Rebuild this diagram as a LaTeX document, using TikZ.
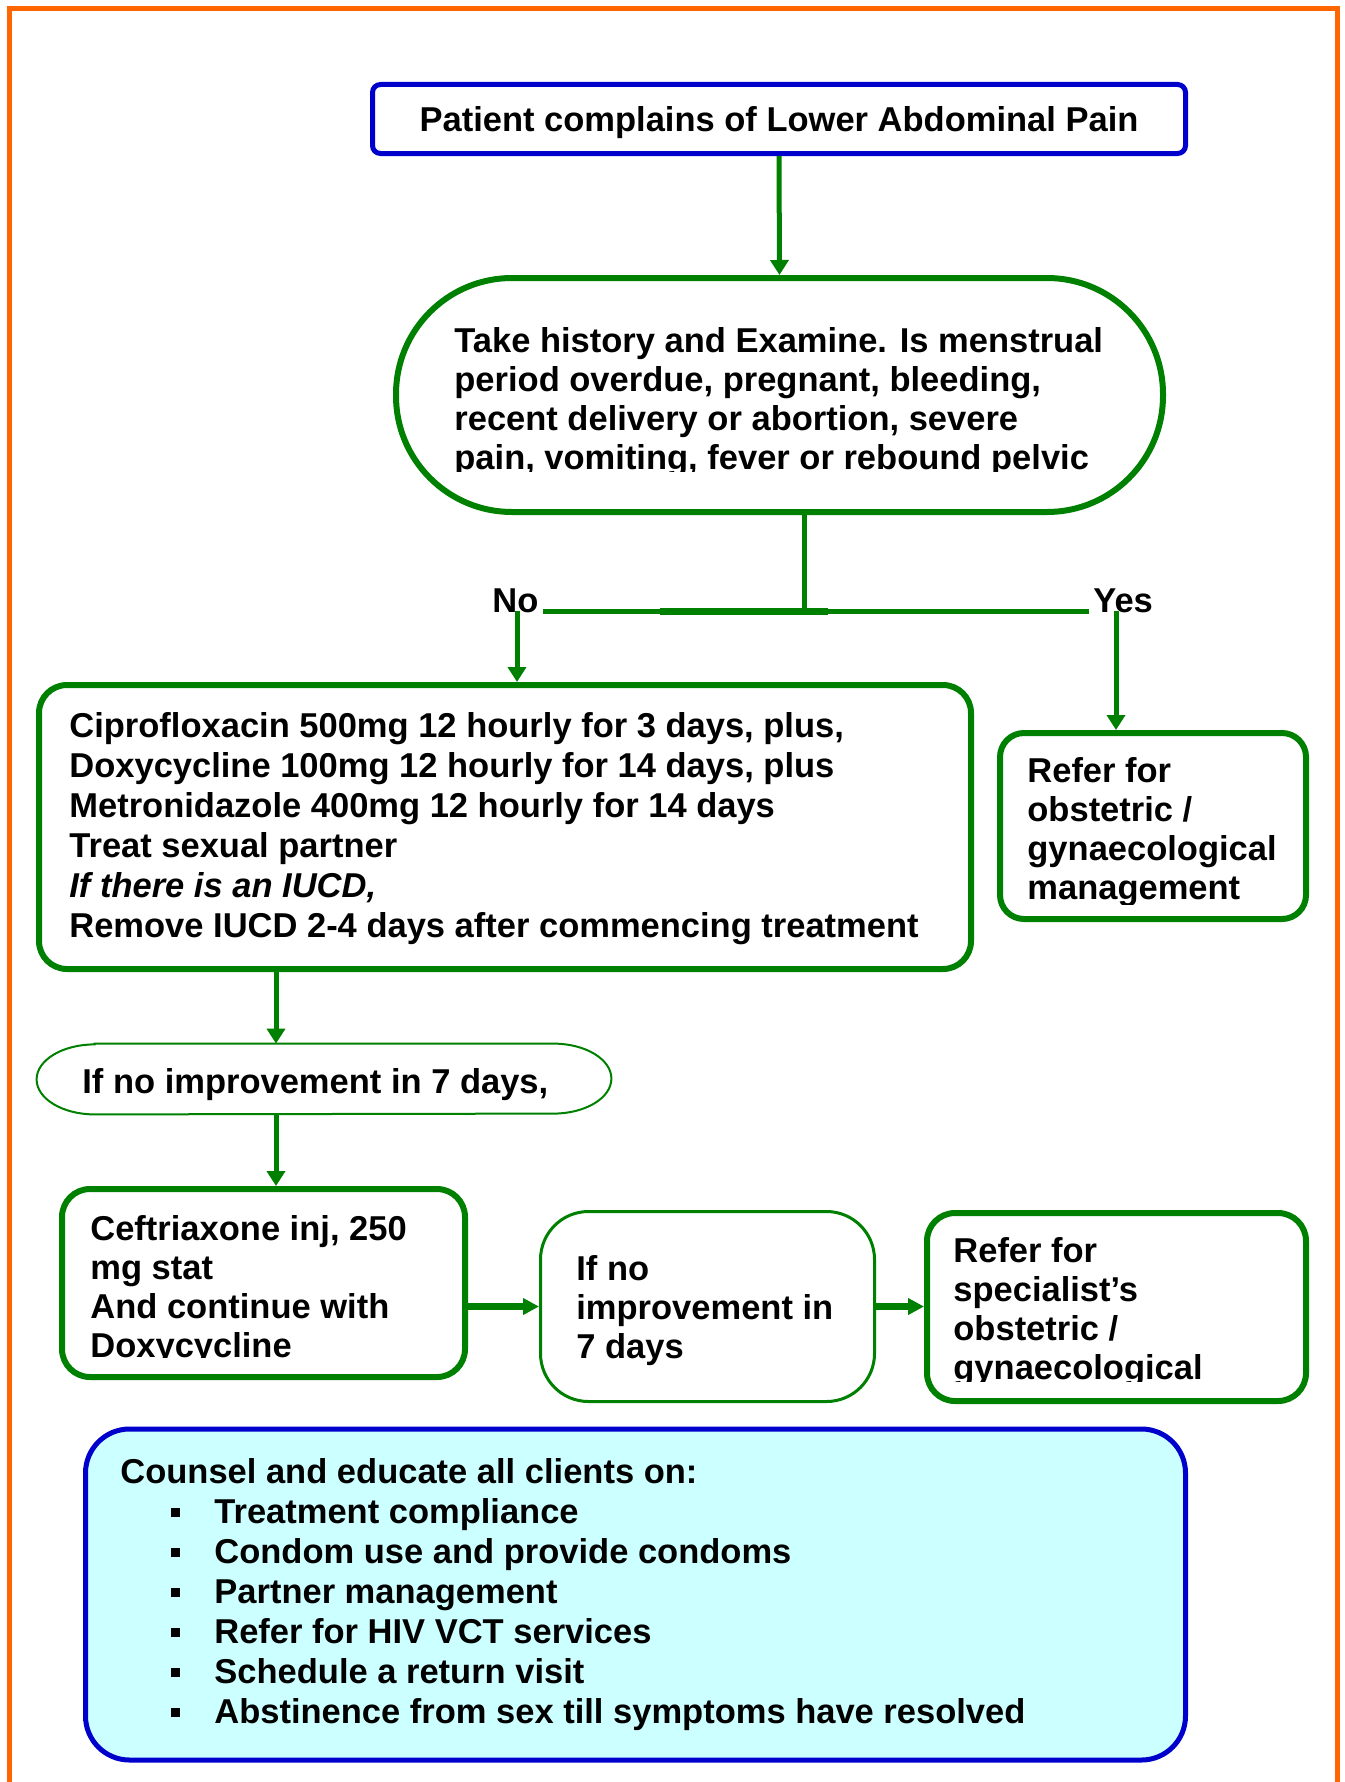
\documentclass[tikz,border=0pt]{standalone}
\usepackage{fontspec}
\setmainfont{Liberation Sans}
\usetikzlibrary{positioning}
\usetikzlibrary{arrows.meta}
\definecolor{flowgreen}{RGB}{0,128,0}
\definecolor{flowblue}{RGB}{0,0,204}
\definecolor{frameorange}{RGB}{255,102,0}
\definecolor{counselcyan}{RGB}{204,255,255}
\newcommand{\cbullet}{\hspace*{25.5pt}\rule[3.25pt]{4.5pt}{4.5pt}\hspace*{17pt}}

\tikzset{
  every node/.style={font=\bfseries\fontsize{17.25pt}{19.5pt}\selectfont},
  widefont/.style={font=\bfseries\fontsize{17.25pt}{20pt}\selectfont},
  greenbox/.style={draw=flowgreen, line width=3pt, rounded corners=14pt, inner sep=0pt},
  bluebox/.style={draw=flowblue, line width=2.5pt, rounded corners=#1, inner sep=0pt},
  oval/.style={draw=flowgreen, rounded corners=#1, inner sep=0pt},
  boxtext/.style={anchor=north west, align=left, inner sep=0pt},
  lbl/.style={inner sep=2pt},
  link/.style={draw=flowgreen, line width=2.5pt},
  flow/.style={link, -{Triangle[length=7.5pt,width=9pt]}},
  sideflow/.style={draw=flowgreen, line width=3.5pt, -{Triangle[length=8pt,width=8pt]}}
}

\begin{document}
\begin{tikzpicture}[x=0.5pt,y=-0.5pt]
\useasboundingbox (0,0) rectangle (1344,1782);

%Frame: open at the bottom
\draw [draw=frameorange, line width=2.5pt] (9.5,1800) -- (9.5,8.5) -- (1337,8.5) -- (1337,1800);

%Shape: Rounded Rect
\node [bluebox=4pt, minimum width=406.5pt, minimum height=34.5pt, text height=12.35pt, text depth=0pt] (complaint) at (779,119) {Patient complains of Lower Abdominal Pain};
%Shape: Stadium
\node [oval=58pt, line width=3pt, minimum width=383.5pt, minimum height=117pt] (history) at (779.5,395) {};
%Shape: Rounded Rect
\node [greenbox, minimum width=466pt, minimum height=142pt] (treat) at (505,827) {};
%Shape: Rounded Rect
\node [greenbox, rounded corners=12pt, minimum width=153pt, minimum height=93pt] (refer) at (1153,826) {};
%Shape: Pill with flat ends (outline drawn below)
\node [inner sep=0pt, minimum width=287pt, minimum height=35pt] (recheck) at (324,1079) {};
\draw [draw=flowgreen, line width=1pt] ([xshift=29pt]recheck.north west) -- ([xshift=-29pt]recheck.north east)
  arc [start angle=90, end angle=-90, x radius=29pt, y radius=17.5pt] -- ([xshift=29pt]recheck.south west)
  arc [start angle=270, end angle=90, x radius=29pt, y radius=17.5pt] -- cycle;
%Shape: Rounded Rect
\node [greenbox, minimum width=201.5pt, minimum height=94pt] (ceft) at (263.5,1283) {};
%Shape: Stadium
\node [oval=24pt, line width=1.5pt, minimum width=167pt, minimum height=95pt] (secondcheck) at (707.5,1306.5) {};
%Shape: Rounded Rect
\node [greenbox, minimum width=189.5pt, minimum height=94pt] (specialist) at (1116.5,1307) {};
%Shape: Rounded Rect
\node [bluebox=22pt, fill=counselcyan, minimum width=550pt, minimum height=165.5pt] (counsel) at (635.5,1594.5) {};

% Text Node
\begin{scope}
\clip (396,290) rectangle (1163,471);
\node [boxtext] (historytext) at (454,325) {\strut Take history and Examine. Is menstrual\\period overdue, pregnant, bleeding,\\recent delivery or abortion, severe\\pain, vomiting, fever or rebound pelvic};
\end{scope}
% Text Node
\node [boxtext, widefont] (treattext) at (69,709) {\strut Ciprofloxacin 500mg 12 hourly for 3 days, plus,\\Doxycycline 100mg 12 hourly for 14 days, plus\\Metronidazole 400mg 12 hourly for 14 days\\Treat sexual partner\\\textit{If there is an IUCD,}\\Remove IUCD 2-4 days after commencing treatment};
% Text Node
\begin{scope}
\clip (1000,740) rectangle (1306,904);
\node [boxtext] (refertext) at (1027,755) {\strut Refer for\\obstetric /\\gynaecological\\management};
\end{scope}
% Text Node
\node [boxtext] (rechecktext) at (82,1066) {\strut If no improvement in 7 days,};
% Text Node
\begin{scope}
\clip (62,1195) rectangle (465,1357);
\node [boxtext] (cefttext) at (90,1213) {\strut Ceftriaxone inj, 250\\mg stat\\And continue with\\Doxycycline};
\end{scope}
% Text Node
\node [boxtext] (secondchecktext) at (576,1253) {\strut If no\\improvement in\\7 days};
% Text Node
\begin{scope}
\clip (927,1215) rectangle (1306,1381);
\node [boxtext] (specialisttext) at (953,1235) {\strut Refer for\\specialist’s\\obstetric /\\gynaecological};
\end{scope}
% Text Node
\node [boxtext, widefont] (counseltext) at (120,1455) {\strut Counsel and educate all clients on:\\\cbullet Treatment compliance\\\cbullet Condom use and provide condoms\\\cbullet Partner management\\\cbullet Refer for HIV VCT services\\\cbullet Schedule a return visit\\\cbullet Abstinence from sex till symptoms have resolved};

%Connectors
\draw [flow] (complaint.south) -- (history.north);
\coordinate (split) at (804,611);
\draw [link] (split |- history.south) -- (split);
\node [lbl, anchor=base west] (nolbl) at (488,612) {No};
\node [lbl, anchor=base west] (yeslbl) at (1089,612) {Yes};
\draw [link] (nolbl.east |- split) -- (yeslbl.west |- split);
\draw [link, line width=3.5pt] ([xshift=-72pt]split) -- ([xshift=12pt]split);
\coordinate (noturn) at (517,611);
\coordinate (yesturn) at (1116,611);
\draw [flow] (noturn) -- (noturn |- treat.north);
\draw [flow] (yesturn) -- (yesturn |- refer.north);
\coordinate (drop) at (276,0);
\draw [flow] (drop |- treat.south) -- (drop |- recheck.north);
\draw [flow] (drop |- recheck.south) -- (drop |- ceft.north);
\draw [sideflow] (ceft.east |- secondcheck.west) -- (secondcheck.west);
\draw [sideflow] (secondcheck.east) -- (secondcheck.east -| specialist.west);

\end{tikzpicture}
\end{document}
